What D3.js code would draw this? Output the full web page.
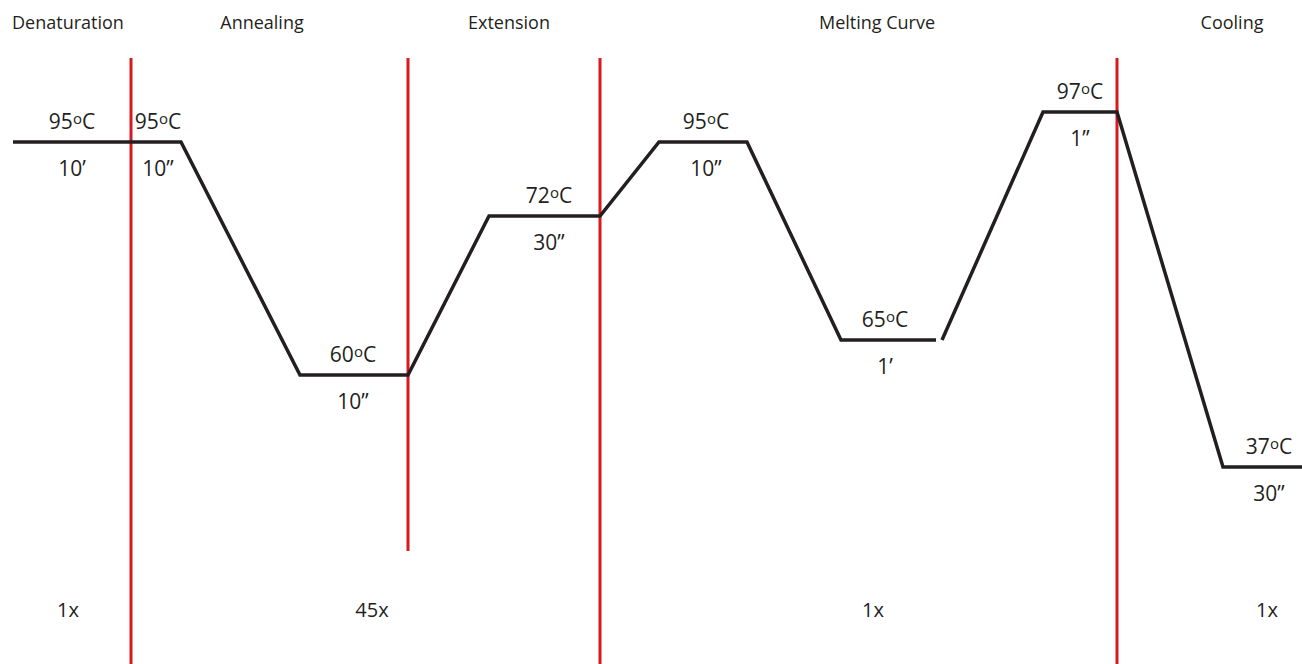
<!DOCTYPE html>
<html>
<head>
<meta charset="utf-8">
<script src="https://cdn.jsdelivr.net/npm/d3@7"></script>
<style>
	body { margin: 0; background: #fff; }
	text { font-family: "Open Sans", sans-serif; fill: #231f20; }
</style>
</head>
<body>
<svg id="chart"></svg>
<script>
const DIMENSION = {
	width: 1302,
	height: 664
};

const CONTAINER = '#chart';

// phase names across the top and the number of cycles at the bottom
const phaseNames = ['Denaturation', 'Annealing', 'Extension', 'Melting Curve', 'Cooling'];
const phaseCenters = [68, 262, 509, 877, 1232];
const cycleLabels = ['1x', '45x', '1x', '1x'];
const cycleCenters = [68, 372, 873, 1267];

// step boundaries (time axis, schematic units)
const boundaries = [131, 408, 600, 1117];
const boundaryBottoms = [664, 551, 664, 664];

// temperature profile, two pieces (gap before the melt ramp)
const profileTimes = [
	[13, 181, 300, 408, 489, 600, 659, 747, 841, 936],
	[942, 1043, 1117, 1223, 1302]
];
const profileTemps = [
	[95, 95, 60, 60, 72, 72, 95, 95, 65, 65],
	[65, 97, 97, 37, 37]
];

// hold labels
const holdTimes = [72, 158, 353, 549, 706, 885, 1080, 1269];
const holdTemps = [95, 95, 60, 72, 95, 65, 97, 37];
const holdDurations = ['10’', '10”', '10”', '30”', '10”', '1’', '1”', '30”'];

const svg = d3.select(CONTAINER)
	.attr('width', DIMENSION.width)
	.attr('height', DIMENSION.height);

const xScale = d3.scaleLinear()
	.domain([0, 1302])
	.range([0, DIMENSION.width]);

// schematic, not proportional: piecewise temperature levels
const yScale = d3.scaleLinear()
	.domain([37, 60, 65, 72, 95, 97])
	.range([467, 375, 340, 216, 142, 112]);

// red step boundaries
svg.append('g')
	.selectAll('line')
	.data(boundaries)
	.join('line')
	.attr('x1', d => xScale(d))
	.attr('x2', d => xScale(d))
	.attr('y1', 58)
	.attr('y2', (d, i) => boundaryBottoms[i])
	.attr('stroke', '#d71920')
	.attr('stroke-width', 3);

const line = d3.line()
	.x(d => xScale(d[0]))
	.y(d => yScale(d[1]));

svg.append('g')
	.selectAll('path')
	.data(profileTimes.map((times, i) => times.map((t, j) => [t, profileTemps[i][j]])))
	.join('path')
	.attr('fill', 'none')
	.attr('stroke', '#231f20')
	.attr('stroke-width', 3.5)
	.attr('stroke-linejoin', 'miter')
	.attr('d', line);

// temperature labels above each hold
const tempText = svg.append('g')
	.selectAll('text')
	.data(holdTimes)
	.join('text')
	.attr('x', d => xScale(d))
	.attr('y', (d, i) => yScale(holdTemps[i]) - 13)
	.attr('text-anchor', 'middle')
	.attr('font-size', 21);

tempText.append('tspan').text((d, i) => holdTemps[i]);
tempText.append('tspan')
	.attr('font-size', 15)
	.attr('dy', -5)
	.text('o');
tempText.append('tspan')
	.attr('dy', 5)
	.text('C');

// durations below each hold
svg.append('g')
	.selectAll('text')
	.data(holdTimes)
	.join('text')
	.attr('x', d => xScale(d))
	.attr('y', (d, i) => yScale(holdTemps[i]) + 34)
	.attr('text-anchor', 'middle')
	.attr('font-size', 21)
	.text((d, i) => holdDurations[i]);

svg.append('g')
	.selectAll('text')
	.data(phaseNames)
	.join('text')
	.attr('x', (d, i) => xScale(phaseCenters[i]))
	.attr('y', 29)
	.attr('text-anchor', 'middle')
	.attr('font-size', 18)
	.text(d => d);

svg.append('g')
	.selectAll('text')
	.data(cycleLabels)
	.join('text')
	.attr('x', (d, i) => xScale(cycleCenters[i]))
	.attr('y', 617)
	.attr('text-anchor', 'middle')
	.attr('font-size', 20)
	.text(d => d);
</script>
</body>
</html>
